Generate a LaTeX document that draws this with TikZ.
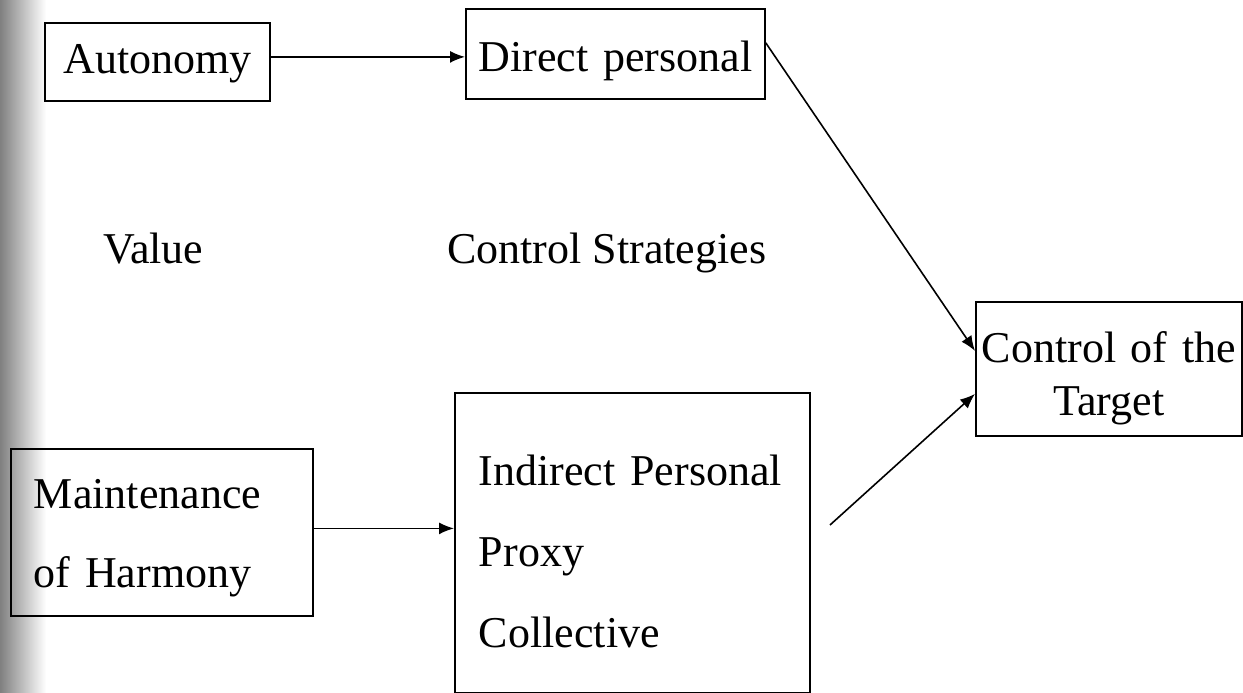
\documentclass[tikz,border=0pt]{standalone}
\usepackage{fontspec}
\setmainfont{Liberation Serif}
\usetikzlibrary{arrows.meta}
\tikzset{
  box/.style={draw, line width=1.8pt, inner ysep=0pt, anchor=north west},
  arr/.style={line width=1.6pt, -{Latex[length=15pt,width=12pt]}},
  lbl/.style={inner sep=0pt, anchor=base west, font=\fontsize{44}{53}\selectfont},
  scan/.style={left color=black!50, right color=white, draw=none}
}
\newcommand{\topstrut}[1]{\rule{0pt}{#1pt}}
\newcommand{\botstrut}[1]{\rule[-#1pt]{0pt}{#1pt}}
\begin{document}
\begin{tikzpicture}[x=1pt,y=-1pt]
\useasboundingbox (0,0) rectangle (1243,693);
\fill[scan] (0,0) rectangle (46,693);
% boxes
\node[box, inner xsep=0pt, text width=225pt, align=center,
      font=\fontsize{44}{53}\selectfont] (auto) at (44,22)
  {\topstrut{51}Autonomy\botstrut{27}};
\node[box, inner xsep=0pt, text width=299pt, align=center,
      font=\fontsize{44}{53}\selectfont] (dir) at (465,8)
  {\topstrut{63}Direct personal\botstrut{27}};
\node[box, inner xsep=0pt, text width=266pt, align=center,
      font=\fontsize{44}{53}\selectfont] (ctl) at (975,301)
  {\topstrut{61}Control of the\\Target\botstrut{20}};
\node[box, inner xsep=23pt, text width=256pt, align=left,
      font=\fontsize{44}{79}\selectfont] (mnt) at (10,448)
  {\topstrut{60}Maintenance\\of Harmony\botstrut{28}};
\node[box, inner xsep=24pt, text width=307pt, align=left,
      font=\fontsize{44}{81}\selectfont] (ind) at (454,392)
  {\topstrut{93}Indirect Personal\\Proxy\\Collective\botstrut{45}};
% free labels
\node[lbl] (val) at (103,263) {Value};
\node[lbl] (cs) at (447,263) {Control Strategies};
% connectors
\coordinate (free) at (830,525);
\draw[arr] ([yshift=5pt]auto.east) -- ([yshift=5pt]auto.east -| dir.west);
\draw[arr] ([yshift=4pt]mnt.east) -- ([yshift=4pt]mnt.east -| ind.west);
\draw[arr] ([yshift=11pt]dir.east) -- ([yshift=18pt]ctl.west);
\draw[arr] (free) -- ([yshift=-25pt]ctl.west);
\end{tikzpicture}
\end{document}
